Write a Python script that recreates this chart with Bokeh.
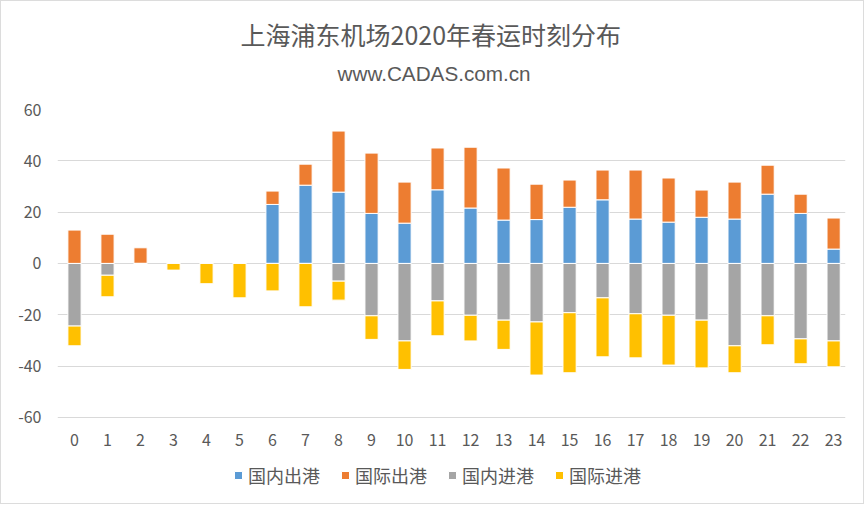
from bokeh.plotting import figure
from bokeh.models import Range1d, FixedTicker, ColumnDataSource, Title, Legend, LegendItem
from bokeh.embed import file_html
from bokeh.resources import INLINE

hours = list(range(24))
hour_labels = [str(h) for h in hours]
# 国内出港 (domestic departures)
dom_out = [0, 0, 0, 0, 0, 0, 23.0, 30.5, 27.8, 19.5, 15.7, 28.7, 21.6, 16.9, 17.1, 21.9, 24.8, 17.3, 16.1, 18.0, 17.3, 27.0, 19.5, 5.6]
# 国际出港 (international departures)
intl_out = [13.0, 11.4, 6.1, 0, 0, 0, 5.2, 8.2, 23.8, 23.5, 16.0, 16.3, 23.7, 20.3, 13.8, 10.6, 11.6, 19.1, 17.2, 10.6, 14.4, 11.3, 7.5, 12.1]
# 国内进港 (domestic arrivals, drawn negative)
dom_in = [-24.4, -4.6, 0, 0, 0, 0, 0, 0, -6.9, -20.4, -30.2, -14.6, -20.2, -22.1, -22.8, -19.2, -13.4, -19.6, -20.2, -22.1, -32.1, -20.4, -29.4, -30.2]
# 国际进港 (international arrivals, drawn negative)
intl_in = [-7.7, -8.4, 0, -2.6, -7.9, -13.4, -10.7, -16.9, -7.4, -9.2, -11.1, -13.6, -10.0, -11.4, -20.7, -23.4, -23.0, -17.2, -19.4, -18.6, -10.5, -11.3, -9.7, -10.1]

series_names = ["国内出港", "国际出港", "国内进港", "国际进港"]
colors = ["#5B9BD5", "#ED7D31", "#A5A5A5", "#FFC000"]
y_ticks = [-60, -40, -20, 0, 20, 40, 60]
y_tick_labels = ["-60", "-40", "-20", "0", "20", "40", "60"]

title_text = "上海浦东机场2020年春运时刻分布"
subtitle_text = "www.CADAS.com.cn"

TEXT = "#595959"
CJK = "Noto Sans CJK SC"

src = ColumnDataSource(dict(x=hours, dom_out=dom_out, intl_out=intl_out,
                            dom_in=dom_in, intl_in=intl_in))

# frame extends below -60 to leave room for the legend inside it
p = figure(width=864, height=504, output_backend="svg", toolbar_location=None,
           x_range=Range1d(-0.515, 23.36), y_range=Range1d(-92, 60),
           min_border_left=56, min_border_right=20, min_border_top=108,
           min_border_bottom=6)
p.outline_line_color = None
p.background_fill_color = "white"
p.border_fill_color = "white"
p.styles = {"border": "1px solid #DCDCDC"}

r_out = p.vbar_stack(["dom_out", "intl_out"], x="x", width=0.4, source=src,
                     color=colors[0:2], line_color="white", line_width=1)
r_in = p.vbar_stack(["dom_in", "intl_in"], x="x", width=0.4, source=src,
                    color=colors[2:4], line_color="white", line_width=1)
renderers = r_out + r_in

p.xaxis.ticker = FixedTicker(ticks=hours)
p.xaxis.major_label_overrides = {h: l for h, l in zip(hours, hour_labels)}
p.xaxis.fixed_location = y_ticks[0]
p.yaxis.ticker = FixedTicker(ticks=y_ticks)
p.yaxis.major_label_overrides = {t: l for t, l in zip(y_ticks, y_tick_labels)}
for ax in (p.xaxis, p.yaxis):
    ax.axis_line_color = None
    ax.major_tick_line_color = None
    ax.minor_tick_line_color = None
    ax.major_label_text_color = TEXT
    ax.major_label_text_font = CJK
    ax.major_label_text_font_size = "16px"
p.xaxis.major_label_standoff = 11
p.yaxis.major_label_standoff = 10
p.xgrid.grid_line_color = None
p.ygrid.grid_line_color = "#D9D9D9"
p.ygrid.grid_line_width = 1

# above panel, from the frame outward: spacer, subtitle, main title
p.add_layout(Title(text=" ", align="left", text_font_size="1px",
                   text_color="white", standoff=22), "above")
p.add_layout(Title(text=subtitle_text, align="left", text_font="Liberation Sans",
                   text_font_size="20.7px", text_font_style="normal",
                   text_color=TEXT, offset=280, standoff=0), "above")
p.title = Title(text=title_text, align="left", text_font=CJK,
                text_font_size="25px", text_font_style="normal",
                text_color=TEXT, offset=183, standoff=16)

legend = Legend(items=[LegendItem(label=n, renderers=[r])
                       for n, r in zip(series_names, renderers)],
                orientation="horizontal", location=(176, 11),
                label_text_font=CJK, label_text_font_size="18px",
                label_text_color=TEXT, glyph_width=10, glyph_height=10,
                label_standoff=5, spacing=20, padding=0, margin=0,
                border_line_color=None, background_fill_alpha=0)
p.add_layout(legend, "center")

open("out.html", "w").write(file_html(p, INLINE))
